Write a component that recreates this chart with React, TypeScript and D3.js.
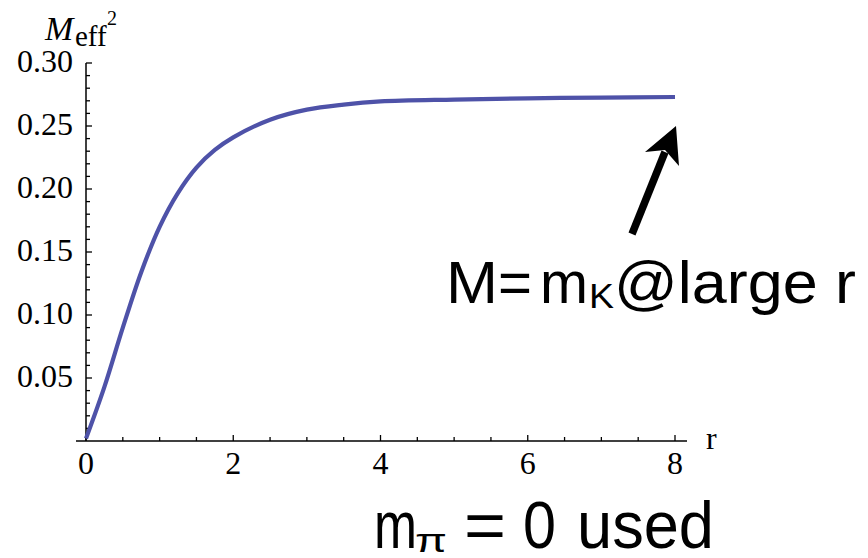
import React from "react";
import * as d3 from "d3";

const rValues = [0, 0.25, 0.5, 0.75, 1.0, 1.25, 1.5, 1.75, 2.0, 2.5, 3.0, 3.5, 4.0, 5.0, 6.0, 7.0, 8.0];
const meff2Values = [0.002, 0.043, 0.09, 0.134, 0.17, 0.197, 0.217, 0.231, 0.241, 0.255, 0.263, 0.267, 0.2695, 0.271, 0.272, 0.2725, 0.273];
const xTickValues = [0, 2, 4, 6, 8];
const yTickValues = [0.05, 0.1, 0.15, 0.2, 0.25, 0.3];
const yTickLabels = ["0.05", "0.10", "0.15", "0.20", "0.25", "0.30"];

const W = 868;
const H = 558;

export default function App() {
  const x = d3.scaleLinear().domain([0, 8]).range([86, 675]);
  const y = d3.scaleLinear().domain([0, 0.3]).range([441, 63]);

  const data = rValues.map((r, i) => [r, meff2Values[i]] as [number, number]);
  const line = d3
    .line<[number, number]>()
    .x((d) => x(d[0]))
    .y((d) => y(d[1]))
    .curve(d3.curveCatmullRom.alpha(0.5));

  const xMinor = d3.range(0, 8.001, 0.5);
  const yMinor = d3.range(0.01, 0.3001, 0.01);

  const serif = "'Liberation Serif', 'Times New Roman', serif";
  const sans = "'Liberation Sans', Arial, Helvetica, sans-serif";

  return (
    <svg
      width={W}
      height={H}
      style={{ position: "absolute", left: 0, top: 0, background: "#fff" }}
    >
      <rect x={0} y={0} width={W} height={H} fill="#fff" />
      {/* axes */}
      <line x1={76} x2={687} y1={y(0)} y2={y(0)} stroke="#000" strokeWidth={1.5} />
      <line x1={x(0)} x2={x(0)} y1={y(0)} y2={y(0.3)} stroke="#000" strokeWidth={1.5} />
      {/* x ticks */}
      {xMinor.map((v) => {
        const major = Math.abs(v - Math.round(v / 2) * 2) < 1e-6;
        return (
          <line
            key={"xm" + v}
            x1={x(v)}
            x2={x(v)}
            y1={y(0)}
            y2={y(0) - (major ? 6 : 4)}
            stroke="#000"
            strokeWidth={1.3}
          />
        );
      })}
      {xTickValues.map((v) => (
        <text
          key={"xl" + v}
          x={x(v)}
          y={474}
          textAnchor="middle"
          fontFamily={serif}
          fontSize={32}
        >
          {v}
        </text>
      ))}
      <text x={706} y={449} fontFamily={serif} fontSize={32}>
        r
      </text>
      {/* y ticks */}
      {yMinor.map((v) => {
        const major = Math.abs(v * 20 - Math.round(v * 20)) < 1e-6;
        return (
          <line
            key={"ym" + v}
            x1={x(0)}
            x2={x(0) + (major ? 6 : 4)}
            y1={y(v)}
            y2={y(v)}
            stroke="#000"
            strokeWidth={1.3}
          />
        );
      })}
      {yTickValues.map((v, i) => (
        <text
          key={"yl" + v}
          x={73}
          y={y(v) + 9}
          textAnchor="end"
          fontFamily={serif}
          fontSize={32}
        >
          {yTickLabels[i]}
        </text>
      ))}
      {/* y label */}
      <text x={45} y={40} fontFamily={serif} fontSize={34} fontStyle="italic">
        M
      </text>
      <text x={75} y={46} fontFamily={serif} fontSize={29}>
        eff
      </text>
      <text x={107} y={25} fontFamily={serif} fontSize={20}>
        2
      </text>
      {/* curve */}
      <path d={line(data) || ""} fill="none" stroke="#4E52A8" strokeWidth={4.2} />
      {/* arrow */}
      <line x1={632} y1={234} x2={665} y2={152} stroke="#000" strokeWidth={7.5} />
      <polygon points="676,126 645,152 665,150 679,166" fill="#000" />
      {/* annotation */}
      <text x={446} y={303} fontFamily={sans} fontSize={60} textLength={52} lengthAdjust="spacingAndGlyphs">
        M
      </text>
      <text x={498} y={303} fontFamily={sans} fontSize={60} textLength={34} lengthAdjust="spacingAndGlyphs">
        =
      </text>
      <text x={540} y={303} fontFamily={sans} fontSize={60} textLength={48} lengthAdjust="spacingAndGlyphs">
        m
      </text>
      <text x={589} y={308} fontFamily={sans} fontSize={35} textLength={25} lengthAdjust="spacingAndGlyphs">
        K
      </text>
      <text x={614} y={303} fontFamily={sans} fontSize={60} textLength={242} lengthAdjust="spacingAndGlyphs">
        @large r
      </text>
      {/* bottom note */}
      <text x={374} y={548} fontFamily={sans} fontSize={66} textLength={43} lengthAdjust="spacingAndGlyphs">
        m
      </text>
      <text x={415} y={552} fontFamily={sans} fontSize={34} textLength={32} lengthAdjust="spacingAndGlyphs">
        π
      </text>
      <text x={464} y={548} fontFamily={sans} fontSize={66} textLength={42} lengthAdjust="spacingAndGlyphs">
        =
      </text>
      <text x={523} y={548} fontFamily={sans} fontSize={66} textLength={33} lengthAdjust="spacingAndGlyphs">
        0
      </text>
      <text x={577} y={548} fontFamily={sans} fontSize={66} textLength={137} lengthAdjust="spacingAndGlyphs">
        used
      </text>
    </svg>
  );
}
